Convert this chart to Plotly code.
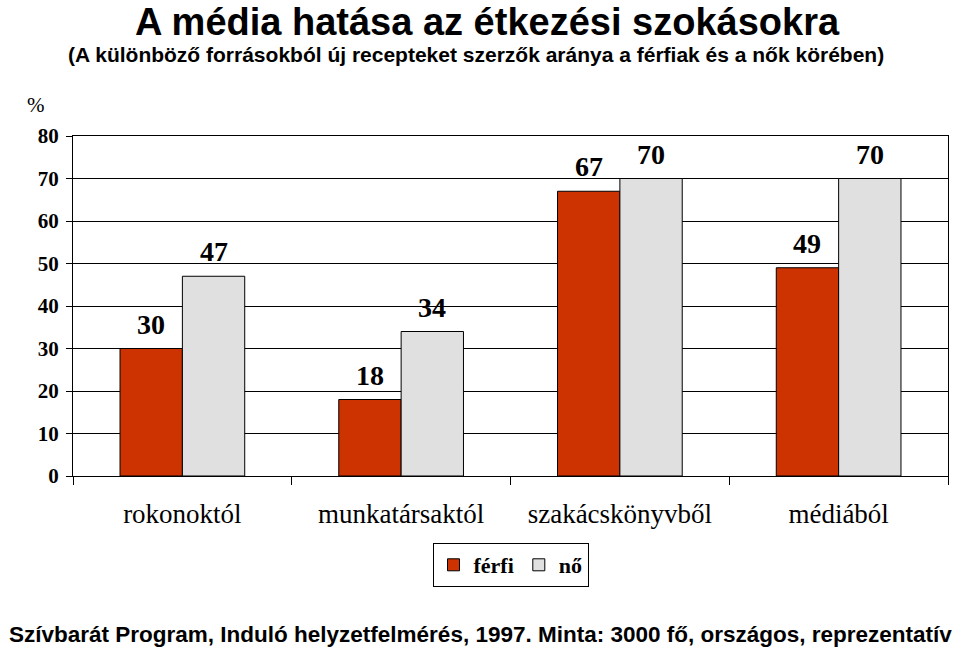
import plotly.graph_objects as go

categories = ["rokonoktól", "munkatársaktól", "szakácskönyvből", "médiából"]
ferfi = [30, 18, 67, 49]
no = [47, 34, 70, 70]
y_ticks = [0, 10, 20, 30, 40, 50, 60, 70, 80]

title = "A média hatása az étkezési szokásokra"
subtitle = "(A különböző forrásokból új recepteket szerzők aránya a férfiak és a nők körében)"
footer = "Szívbarát Program, Induló helyzetfelmérés, 1997. Minta: 3000 fő, országos, reprezentatív"

RED = "#CC3300"
GRAY = "#E0E0E0"
SERIF = "Liberation Serif, Times New Roman, serif"
SANS = "Liberation Sans, Arial, sans-serif"

W, H = 960, 648
L, R, T, B = 73, 12, 136, 172
PW, PH = W - L - R, H - T - B
bargap = 0.43
half = (1 - bargap) / 4  # offset of each bar centre from category centre (in category units)

fig = go.Figure()
fig.add_bar(x=categories, y=ferfi, name="férfi", marker=dict(color=RED, line=dict(color="black", width=1)))
fig.add_bar(x=categories, y=no, name="nő", marker=dict(color=GRAY, line=dict(color="black", width=1)))

def px_x(p):
    return (p - L) / PW

def px_y(p):
    return (T + PH - p) / PH

annotations = []
for i, (f, n) in enumerate(zip(ferfi, no)):
    for val, off in ((f, -half), (n, half)):
        annotations.append(dict(x=i + off, y=val, xref="x", yref="y", text=str(val),
                                showarrow=False, yanchor="bottom", yshift=7,
                                font=dict(family=SERIF, size=28, color="black", weight="bold")))

annotations += [
    dict(x=px_x(487), y=px_y(22), xref="paper", yref="paper", text=title, showarrow=False,
         xanchor="center", yanchor="middle", font=dict(family=SANS, size=38, color="black", weight="bold")),
    dict(x=px_x(476), y=px_y(55), xref="paper", yref="paper", text=subtitle, showarrow=False,
         xanchor="center", yanchor="middle", font=dict(family=SANS, size=21, color="black", weight="bold")),
    dict(x=px_x(36), y=px_y(105), xref="paper", yref="paper", text="%", showarrow=False,
         xanchor="center", yanchor="middle", font=dict(family=SERIF, size=21, color="black")),
    dict(x=px_x(480), y=px_y(634), xref="paper", yref="paper", text=footer, showarrow=False,
         xanchor="center", yanchor="middle", font=dict(family=SANS, size=22.5, color="black", weight="bold")),
]

fig.update_layout(
    width=W, height=H,
    margin=dict(l=L, r=R, t=T, b=B, autoexpand=False),
    paper_bgcolor="white", plot_bgcolor="white",
    barmode="group", bargap=bargap, bargroupgap=0,
    showlegend=True,
    legend=dict(orientation="h", x=0.5, xanchor="center", y=px_y(565), yanchor="middle",
                bordercolor="black", borderwidth=1, bgcolor="white",
                font=dict(family=SERIF, size=22, color="black", weight="bold"),
                itemwidth=30, tracegroupgap=0),
    annotations=annotations,
    xaxis=dict(showline=True, linecolor="black", linewidth=1, mirror=True,
               ticks="outside", tickson="boundaries", ticklen=8, tickcolor="black",
               tickfont=dict(family=SERIF, size=27, color="black"),
               ticklabelstandoff=14, showgrid=False),
    yaxis=dict(range=[0, 80], tickvals=y_ticks, showline=True, linecolor="black", linewidth=1,
               mirror=True, ticks="outside", ticklen=6, tickcolor="black",
               showgrid=True, gridcolor="black", gridwidth=1, zeroline=False,
               tickfont=dict(family=SERIF, size=21, color="black", weight="bold"),
               ticklabelstandoff=3),
)

fig.write_html("out.html")
